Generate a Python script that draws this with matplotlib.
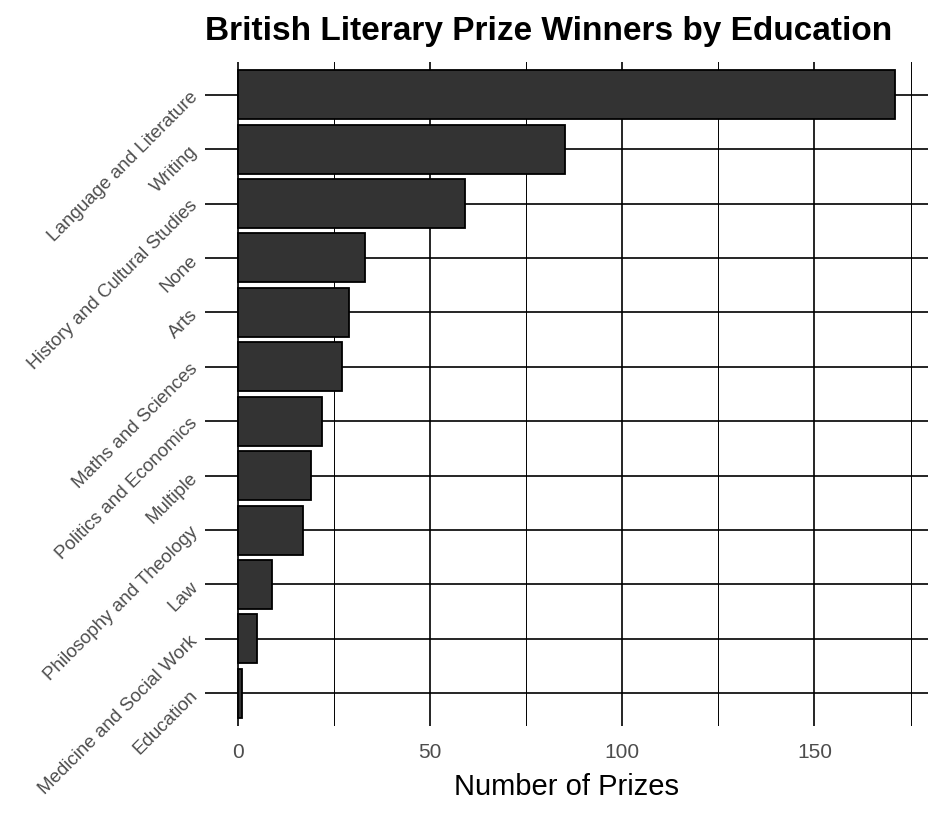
import matplotlib
matplotlib.use("Agg")
import matplotlib.pyplot as plt
from matplotlib.ticker import MultipleLocator

plt.rcParams['font.family'] = ['Liberation Sans', 'DejaVu Sans']

# education categories, top to bottom
subjects = ["Language and Literature", "Writing", "History and Cultural Studies",
            "None", "Arts", "Maths and Sciences", "Politics and Economics",
            "Multiple", "Philosophy and Theology", "Law",
            "Medicine and Social Work", "Education"]
prizes = [171, 85, 59, 33, 29, 27, 22, 19, 17, 9, 5, 1]

fig = plt.figure(figsize=(9.44, 8.14), dpi=100)
ax = fig.add_axes([205/944, 1 - 726/814, (928 - 205)/944, (726 - 62)/814])

n = len(subjects)
ypos = list(range(n, 0, -1))
ax.barh(ypos, prizes, height=0.9, color="#333333", edgecolor="black",
        linewidth=1.3, zorder=3)

xmax = max(prizes)
ax.set_xlim(-0.05 * xmax, 1.05 * xmax)
ax.set_ylim(0.4, n + 0.6)

ax.set_yticks(ypos)
ax.set_yticklabels(subjects, rotation=45, ha="right", va="center",
                   rotation_mode="anchor", fontsize=13.5, color="#4D4D4D")
ax.xaxis.set_major_locator(MultipleLocator(50))
ax.xaxis.set_minor_locator(MultipleLocator(25))
ax.tick_params(axis="x", which="both", length=0, labelsize=15,
               labelcolor="#4D4D4D", pad=12)
ax.tick_params(axis="y", length=0, pad=7)

ax.grid(axis="x", which="major", color="black", linewidth=1.2, zorder=0)
ax.grid(axis="x", which="minor", color="black", linewidth=0.7, zorder=0)
ax.grid(axis="y", which="major", color="black", linewidth=1.2, zorder=0)
ax.set_axisbelow(True)
for s in ax.spines.values():
    s.set_visible(False)

ax.set_xlabel("Number of Prizes", fontsize=21, labelpad=8)
ax.set_title("British Literary Prize Winners by Education", loc="left",
             fontsize=24, fontweight="bold", pad=16)

fig.savefig("out.png", dpi=100)
